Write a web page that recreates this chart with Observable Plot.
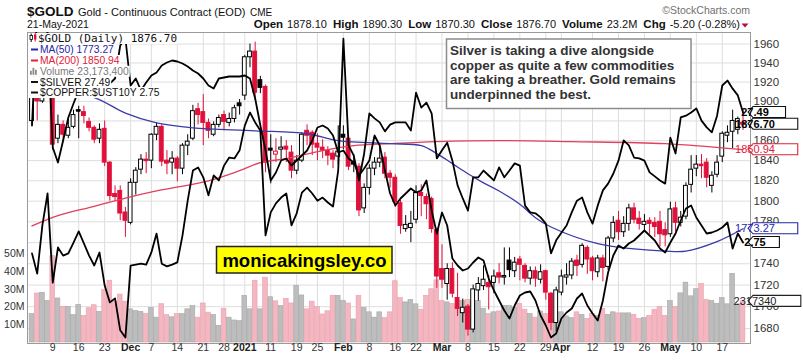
<!DOCTYPE html>
<html><head><meta charset="utf-8">
<script src="https://cdn.jsdelivr.net/npm/d3@7"></script>
<script src="https://cdn.jsdelivr.net/npm/@observablehq/plot@0.6"></script>
<style>
body{margin:0;background:#fff}
#wrap{position:relative;width:803px;height:360px;overflow:hidden;background:#fff}
#wrap svg{position:absolute;left:0;top:0}
</style></head><body><div id="wrap"></div>
<script>
// ---------- DATA (trading days 3 Nov 2020 .. 21 May 2021) ----------
const open = [1880,1906,1900,1946,1952,1862,1876,1865,1874,1891,
1889,1879,1873,1862,1872,1838,1807,1810,1789,1779,
1818,1831,1841,1840,1866,1874,1840,1838,1842,1832,
1855,1862,1892,1889,1878,1866,1876,1886,1878,1882,
1898,1906,1946,1952,1922,1915,1852,1846,1851,1854,
1848,1830,1840,1870,1868,1857,1853,1850,1847,1844,
1866,1862,1838,1834,1793,1813,1832,1838,1843,1827,
1823,1798,1773,1774,1782,1808,1804,1802,1772,1735,
1721,1735,1708,1694,1700,1679,1715,1719,1722,1722,
1731,1727,1743,1733,1744,1738,1726,1733,1725,1733,
1712,1685,1713,1727,1729,1743,1739,1755,1745,1732,
1745,1737,1764,1781,1770,1778,1793,1783,1777,1781,
1779,1780,1772,1768,1793,1779,1785,1816,1832,1836,
1838,1815,1826,1844,1865,1869,1871,1878.1];
const high = [1911,1915,1951,1965,1966,1886,1880,1882,1891,1895,
1895,1883,1875,1877,1880,1839,1815,1815,1794,1822,
1833,1846,1848,1867,1878,1876,1850,1849,1844,1857,
1866,1896,1898,1907,1882,1879,1886,1890,1888,1896,
1902,1948,1960,1962,1926,1917,1866,1862,1864,1860,
1855,1845,1868,1876,1870,1867,1861,1854,1850,1875,
1875,1864,1846,1837,1817,1836,1843,1855,1848,1830,
1826,1801,1786,1790,1815,1816,1807,1804,1774,1758,
1740,1741,1731,1707,1702,1720,1727,1738,1729,1734,
1740,1755,1755,1746,1747,1740,1737,1737,1739,1734,
1713,1718,1734,1740,1745,1748,1759,1757,1747,1748,
1748,1766,1785,1790,1785,1797,1798,1790,1787,1784,
1784,1790,1779,1799,1799,1790,1818,1845,1845,1846,
1842,1829,1845,1869,1875,1891,1884,1890.3];
const low = [1876,1880,1898,1937,1850,1857,1859,1862,1872,1862,
1877,1869,1857,1857,1834,1800,1800,1781,1765,1777,
1806,1826,1827,1832,1860,1834,1826,1826,1819,1826,
1845,1860,1876,1855,1862,1864,1873,1870,1874,1878,
1886,1901,1935,1901,1908,1828,1817,1838,1841,1838,
1822,1826,1838,1855,1845,1840,1842,1835,1832,1836,
1851,1830,1828,1785,1788,1806,1825,1833,1822,1813,
1794,1768,1770,1760,1778,1785,1782,1769,1717,1717,
1706,1708,1691,1685,1673,1676,1705,1715,1697,1712,
1721,1720,1727,1727,1724,1722,1720,1718,1721,1706,
1678,1677,1710,1720,1725,1728,1736,1730,1724,1727,
1723,1734,1760,1762,1765,1771,1778,1772,1770,1768,
1765,1756,1756,1765,1770,1775,1782,1808,1824,1822,
1813,1808,1823,1838,1858,1852,1866,1870.3];
const close = [1906,1900,1946,1952,1856,1876,1866,1873,1886,1890,
1885,1873,1861,1871,1838,1805,1804,1788,1781,1818,
1830,1841,1840,1866,1874,1839,1837,1842,1832,1855,
1859,1890,1886,1878,1870,1876,1883,1879,1882,1893,
1895,1946,1952,1909,1914,1838,1850,1849,1853,1851,
1830,1840,1866,1865,1856,1853,1850,1845,1841,1849,
1863,1834,1836,1791,1813,1832,1838,1842,1827,1823,
1799,1776,1777,1778,1808,1805,1797,1773,1728,1725,
1735,1712,1698,1699,1679,1716,1721,1725,1718,1728,
1727,1728.5,1734,1741,1739,1726,1733,1726,1732,1713,
1685,1715,1728,1729,1742,1738,1757,1744,1733,1745,
1736,1764,1779,1770,1778,1793,1782,1778,1780,1778,
1775,1768,1767,1792,1779,1784,1815,1831,1836,1835,
1823,1825,1838,1867,1868,1880,1881.9,1876.7];
// volume, millions of contracts
const volume = [16,27.6,28,23.4,48.6,24.8,20,20,15.4,21.2,
15,19.3,21,17.3,29.5,34.8,23,27,23,18.7,
17.8,17.3,16.2,19.4,14,21.6,15.4,14.2,16,16,
18.7,20.5,14,22,16.8,15.5,9.4,19,14,12.4,
12,26.3,18.7,34.8,18.7,36.5,25.5,23.2,20.5,24.6,
22,32,26.5,18.7,23,19.9,15.8,17.6,26.3,26.3,
23.4,22,13,26.3,19.4,17,14,17,13.7,17,
34.5,25,22.6,24,21.5,18.5,26.3,30,35,23.4,
22.6,21.7,18.9,23.4,24,22.6,23.4,18.9,16,17,
17.5,20.6,20.6,19.7,21.7,18.5,16,14,17.5,16,
13.3,12.4,17,14.7,13.7,17,15.6,13.3,16,15,
18.9,15.6,17,16.4,16.4,16.4,15.6,13.3,13.7,15,
18.5,20,15,23.4,20,27.7,33.7,26,30,33,
24,23.4,21.7,25,21.5,38.7,21.5,23.1734];
const silver = [24.36,23.91,24.98,25.69,23.71,24.49,24.31,24.36,24.60,24.85,
24.58,24.31,24.09,24.38,23.65,23.27,23.36,22.65,22.49,24.09,
24.11,24.13,24.11,24.38,24.80,24.13,24.07,24.11,24.16,24.76,
25.53,26.20,26.27,26.05,25.65,26.09,25.98,26.31,26.49,26.47,
26.65,27.20,27.49,27.27,27.09,24.76,25.27,25.47,25.60,25.69,
24.98,25.25,25.71,25.82,25.69,25.53,25.60,25.49,25.40,26.20,
29.13,26.76,26.53,25.98,26.58,27.47,27.36,27.27,27.07,27.22,
27.27,27.27,27.27,27.09,27.93,27.60,27.71,27.47,26.47,26.65,
26.82,26.42,25.87,25.58,25.31,26.05,26.05,26.20,26.09,25.98,
26.27,26.05,26.20,26.36,26.31,25.42,25.27,25.25,25.16,25.02,
24.36,24.65,24.82,24.98,25.27,25.53,25.60,25.27,25.02,25.42,
25.76,25.91,26.13,26.42,26.87,26.76,26.49,26.47,26.42,26.16,
26.07,25.98,25.91,26.93,26.58,27.38,27.42,27.49,27.58,27.31,
27.16,27.05,27.42,28.09,28.20,28.02,27.87,27.49];
const copperRatio = [3.335,3.90,3.85,3.80,3.225,3.15,3.26,3.375,3.445,3.51,
3.585,3.61,3.61,3.585,3.52,3.545,3.57,3.735,3.77,3.535,
3.57,3.51,3.55,3.585,3.60,3.635,3.65,3.66,3.655,3.645,
3.63,3.61,3.595,3.57,3.535,3.52,3.57,3.575,3.58,3.58,
3.58,3.585,3.57,3.47,3.335,3.21,3.06,3.10,3.16,3.17,
3.135,3.16,3.185,3.21,3.26,3.325,3.335,3.32,3.285,3.20,
3.21,3.17,3.15,3.085,3.12,3.16,3.285,3.235,3.11,2.995,
2.935,2.97,2.995,3.02,3.00,3.01,3.06,2.91,2.795,2.90,
2.835,2.67,2.635,2.61,2.62,2.65,2.675,2.66,2.57,2.51,
2.46,2.41,2.37,2.435,2.485,2.50,2.505,2.46,2.385,2.335,
2.275,2.295,2.37,2.40,2.42,2.47,2.495,2.435,2.395,2.36,
2.46,2.60,2.685,2.735,2.72,2.745,2.76,2.785,2.81,2.785,
2.76,2.72,2.70,2.75,2.795,2.86,2.92,2.935,2.875,2.835,
2.795,2.80,2.81,2.825,2.85,2.72,2.795,2.75];
const ma50Days = [0,6,12,18,24,31,43,53,59,69,75,78,81,84,87,90,94,97,100,109,116,122,126,132,137];
const ma50 = [1912,1909,1904,1888,1878,1873,1870,1867,1860,1857,1855,1847,1837,1827,1818,1810,1797,1784,1775,1759,1754,1752,1752,1761,1773.27];
const ma200Days = [0,5,12,18,24,34,40,44,49,56,62,69,78,90,104,122,137];
const ma200 = [1776,1786,1795,1803,1810,1820,1830,1838,1842,1850,1855,1857,1859,1860,1859,1857,1850.94];
const tickDays = [4,9,14,19,23,28,33,37,41,46,51,55,60,65,70,74,79,84,89,94,99,102,108,113,118,123,128,133];
const tickLabels = ["9","16","23","Dec","7","14","21","28","2021","11","19","25","Feb","8","16","22","Mar","8","15","22","29","Apr","12","19","26","May","10","17"];
const priceTicks = [1680,1700,1720,1740,1760,1780,1800,1820,1840,1860,1880,1900,1920,1940,1960];
const hiddenPriceLabels = [1760,1880]; // covered by value tags in the reference
const volTicks = [10,20,30,40,50];

// ---------- LAYOUT ----------
const W = 803, H = 360, MT = 32, MR = 53, ML = 27, MB = 17;
const X0 = 31.5, DX = 5.19;
const xDomain = [(ML - X0) / DX, (W - MR - X0) / DX];
const PRICE = [1666.4, 1972.3];
const FONT = "'Liberation Sans', Arial, Helvetica, sans-serif";
const RED = "#e0103a", GRID = "#dedede";
const days = d3.range(close.length);
const up = close.map((c, i) => i === 0 ? true : c >= close[i - 1]);
const cc = i => up[i] ? "#000" : RED;
const wrap = document.getElementById("wrap");
const base = {width: W, height: H, marginTop: MT, marginRight: MR, marginBottom: MB, marginLeft: ML,
  style: `background:none;font-family:${FONT};overflow:visible;position:absolute;left:0;top:0;max-width:none`};
function addPlot(o) { const s = Plot.plot({...base, ...o}); wrap.appendChild(s); return s; }

const cv = document.createElement("canvas").getContext("2d");
function measure(t, font) { cv.font = font; return cv.measureText(t).width; }
function tagMark(tags) {
  return (index, scales, values, dims) => {
    const g = d3.create("svg:g");
    const xr = dims.width - dims.marginRight;
    for (const t of tags) {
      const y = scales.y(t.value);
      const font = `${t.bold ? "bold " : ""}11px ${FONT}`;
      const w = measure(t.text, font) + 5, h = 11;
      g.append("path").attr("d", `M${xr - 2},${y}L${xr + 3},${y - h / 2}H${xr + 3 + w}V${y + h / 2}H${xr + 3}Z`)
        .attr("fill", "#fff").attr("stroke", t.stroke).attr("stroke-width", 1.1);
      g.append("text").attr("x", xr + 5).attr("y", y).attr("dy", "0.36em").attr("fill", t.color)
        .attr("font-family", FONT).attr("font-size", 11).attr("font-weight", t.bold ? "bold" : "normal").text(t.text);
    }
    return g.node();
  };
}

// 1. grid, frame, axes
const boldIdx = tickLabels.map((l, i) => /[A-Za-z]|2021/.test(l) ? i : -1).filter(i => i >= 0);
const regIdx = tickLabels.map((l, i) => boldIdx.includes(i) ? -1 : i).filter(i => i >= 0);
addPlot({
  x: {domain: xDomain, axis: null},
  y: {type: "log", domain: PRICE, axis: null},
  marks: [
    Plot.ruleY(priceTicks, {stroke: GRID}),
    Plot.ruleX(tickDays, {stroke: GRID}),
    Plot.frame({stroke: "#9a9a9a"}),
    Plot.text(priceTicks.filter(d => !hiddenPriceLabels.includes(d)), {y: d => d, text: d => String(d), frameAnchor: "right", textAnchor: "start", dx: 3, fontSize: 11.5, fill: "#333"}),
    Plot.text(regIdx, {x: i => tickDays[i], text: i => tickLabels[i], frameAnchor: "bottom", dy: 7.5, fontSize: 10.5, fill: "#333"}),
    Plot.text(boldIdx, {x: i => tickDays[i], text: i => tickLabels[i], frameAnchor: "bottom", dy: 7.5, fontSize: 10.5, fontWeight: "bold", fill: "#222"})
  ]
});
// 2. volume
addPlot({
  marginBottom: 18,
  x: {domain: xDomain, axis: null},
  y: {domain: [0, 174.6], axis: null},
  color: {type: "identity"},
  marks: [
    Plot.rect(days, {x1: i => i - 0.46, x2: i => i + 0.46, y1: 0, y2: i => volume[i],
      fill: i => up[i] ? "#bdbdbd" : "#f4b6c0", stroke: i => up[i] ? "#a6a6a6" : "#e8a2ae", strokeWidth: 0.6}),
    Plot.text(volTicks, {y: d => d, text: d => d + "M", frameAnchor: "left", textAnchor: "end", dx: -3, fontSize: 10.5, fill: "#333"}),
    tagMark([{value: volume[volume.length - 1], text: "2317340", stroke: "#222", color: "#222", bold: false}])
  ]
});
// 3. candles + moving averages
addPlot({
  x: {domain: xDomain, axis: null},
  y: {type: "log", domain: PRICE, axis: null},
  color: {type: "identity"},
  marks: [
    Plot.ruleX(days, {x: i => i, y1: i => low[i], y2: i => high[i], stroke: cc, strokeWidth: 1}),
    Plot.rect(days, {x1: i => i - 0.37, x2: i => i + 0.37, y1: i => Math.min(open[i], close[i]), y2: i => Math.max(open[i], close[i]),
      fill: i => close[i] < open[i] ? cc(i) : "#fff", stroke: cc, strokeWidth: 1}),
    Plot.ruleY(days, {filter: i => Math.abs(open[i] - close[i]) < 2, y: i => close[i], x1: i => i - 0.4, x2: i => i + 0.4, stroke: cc, strokeWidth: 1.2}),
    Plot.line(ma200Days, {x: d => d, y: (d, i) => ma200[i], stroke: "#e0405c", strokeWidth: 1.3, curve: "catmull-rom"}),
    Plot.line(ma50Days, {x: d => d, y: (d, i) => ma50[i], stroke: "#3b3ba6", strokeWidth: 1.3, curve: "catmull-rom"}),
    tagMark([
      {value: 1850.94, text: "1850.94", stroke: "#e0203a", color: "#e0203a", bold: false},
      {value: 1773.27, text: "1773.27", stroke: "#2626a6", color: "#2626a6", bold: false}
    ])
  ]
});
// 4. silver
addPlot({
  x: {domain: xDomain, axis: null},
  y: {domain: [22.357, 29.268], axis: null},
  marks: [
    Plot.line(silver, {x: (d, i) => i, y: d => d, stroke: "#000", strokeWidth: 1.8, clip: true}),
    tagMark([{value: 27.49, text: "27.49", stroke: "#111", color: "#000", bold: true}])
  ]
});
// 5. copper : 10y yield ratio
addPlot({
  x: {domain: xDomain, axis: null},
  y: {domain: [2.245, 3.80], axis: null},
  marks: [
    Plot.line(copperRatio, {x: (d, i) => i, y: d => d, stroke: "#000", strokeWidth: 1.8, clip: true}),
    tagMark([{value: 2.75, text: "2.75", stroke: "#111", color: "#000", bold: true}])
  ]
});
// 6. last price tag on top
addPlot({
  x: {domain: xDomain, axis: null},
  y: {type: "log", domain: PRICE, axis: null},
  marks: [tagMark([{value: close[close.length - 1], text: "1876.70", stroke: "#111", color: "#000", bold: true}])]
});

// ---------- OVERLAY TEXT ----------
const ov = d3.select(wrap).append("svg").attr("width", W).attr("height", H).style("font-family", FONT);
function T(x, y, s, o = {}) {
  return ov.append("text").attr("x", x).attr("y", y).attr("font-size", o.size || 11)
    .attr("font-weight", o.bold ? "bold" : "normal").attr("fill", o.fill || "#111")
    .attr("text-anchor", o.anchor || "start").attr("font-family", o.family || FONT).text(s);
}
T(27, 16, "$GOLD", {size: 13.5, bold: true});
T(78, 16, "Gold - Continuous Contract (EOD)", {size: 11});
T(250, 16, "CME", {size: 10});
T(750, 14, "\u00A9StockCharts.com", {size: 10.5, fill: "#707070", anchor: "end"});
T(27, 28, "21-May-2021", {size: 10.5});
const hdr = [["Open", "1878.10"], ["High", "1890.30"], ["Low", "1870.30"], ["Close", "1876.70"], ["Volume", "23.2M"], ["Chg", "-5.20 (-0.28%)"]];
const ht = ov.append("text").attr("x", 740).attr("y", 28).attr("text-anchor", "end").attr("fill", "#111");
hdr.forEach(([l, v], i) => {
  ht.append("tspan").attr("dx", i ? 6 : 0).attr("font-size", 11.5).attr("font-weight", "bold").text(l);
  ht.append("tspan").attr("dx", 4).attr("font-size", 11).text(v);
});
ov.append("path").attr("d", "M741.5,23.5L748.5,23.5L745,27.5Z").attr("fill", "#b0103a");

// legend
const leg = [
  {y: 42, text: "$GOLD (Daily) 1876.70", fill: "#111", family: "'DejaVu Sans Mono', monospace", size: 11, icon: "candle", x: 38},
  {y: 53, text: "MA(50) 1773.27", fill: "#2626a6", icon: "dash", c: "#2626a6"},
  {y: 64, text: "MA(200) 1850.94", fill: "#e0203a", icon: "dash", c: "#e0203a"},
  {y: 74.8, text: "Volume 23,173,400", fill: "#7a7a7a", icon: "bars"},
  {y: 85.5, text: "$SILVER 27.49", fill: "#111", icon: "dash", c: "#111"},
  {y: 96, text: "$COPPER:$UST10Y 2.75", fill: "#111", icon: "dash", c: "#111"}
];
for (const r of leg) {
  const bg = ov.append("rect").attr("fill", "#fff");
  const t = T(r.x || 40, r.y, r.text, {size: r.size || 10.3, fill: r.fill, family: r.family});
  const end = (r.x || 40) + t.node().getComputedTextLength();
  bg.attr("x", 29).attr("y", r.y - 9).attr("width", end - 29 + 1).attr("height", 11);
  t.raise();
  if (r.icon === "dash") ov.append("line").attr("x1", 31).attr("x2", 38).attr("y1", r.y - 3.5).attr("y2", r.y - 3.5).attr("stroke", r.c).attr("stroke-width", 2);
  if (r.icon === "bars") {
    [[30, 4], [32.5, 7], [35, 5]].forEach(([x, h]) => ov.append("rect").attr("x", x).attr("y", r.y - h).attr("width", 1.8).attr("height", h).attr("fill", "#8a8a8a"));
  }
  if (r.icon === "candle") {
    ov.append("line").attr("x1", 31.2).attr("x2", 31.2).attr("y1", r.y - 8.5).attr("y2", r.y).attr("stroke", "#000");
    ov.append("rect").attr("x", 30).attr("y", r.y - 6.5).attr("width", 2.4).attr("height", 4).attr("fill", "#fff").attr("stroke", "#000").attr("stroke-width", 0.8);
    ov.append("line").attr("x1", 35.2).attr("x2", 35.2).attr("y1", r.y - 9).attr("y2", r.y - 0.5).attr("stroke", RED);
    ov.append("rect").attr("x", 34).attr("y", r.y - 7.5).attr("width", 2.4).attr("height", 5).attr("fill", RED);
  }
}

// comment box
ov.append("rect").attr("x", 446.5).attr("y", 39).attr("width", 244.5).attr("height", 69.5).attr("fill", "#fff").attr("stroke", "#8c8c8c").attr("stroke-width", 1.5);
["Silver is taking a dive alongside", "copper as quite a few commodities", "are taking a breather. Gold remains", "underpinned the best."]
  .forEach((s, i) => T(450, 55 + i * 14.6, s, {size: 13.5, bold: true, fill: "#333"}));
// site box
ov.append("rect").attr("x", 216.5).attr("y", 246.5).attr("width", 175.5).attr("height", 26.5).attr("fill", "#ffff00").attr("stroke", "#222").attr("stroke-width", 1.5);
T(304.5, 266.5, "monicakingsley.co", {size: 18.5, bold: true, fill: "#000", anchor: "middle"});
</script></body></html>
